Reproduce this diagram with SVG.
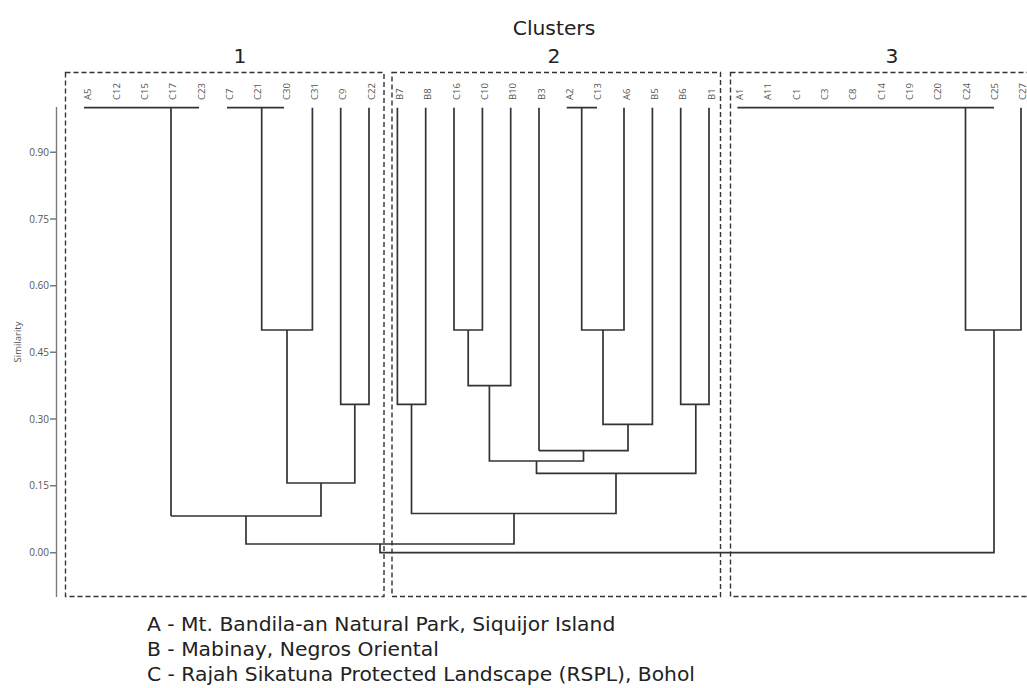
<svg xmlns="http://www.w3.org/2000/svg" width="1027" height="688" viewBox="0 0 1027 688">
<style>
.box{fill:none;stroke:#333;stroke-width:1.4;stroke-dasharray:5,3}
.dl{fill:none;stroke:#333;stroke-width:1.7}
.ax{fill:none;stroke:#7a7a7a;stroke-width:1.4}
.tk{font-family:"Open Sans",sans-serif;font-size:10px;fill:#555;text-anchor:end}
.lf{font-family:"Open Sans",sans-serif;font-size:9.5px;fill:#555;text-anchor:start}
.big{font-family:"DejaVu Sans",Verdana,sans-serif;font-size:20.3px;fill:#222}
</style>
<rect width="1027" height="688" fill="#fff"/>
<g id="title">
<text class="big" x="554" y="35" text-anchor="middle">Clusters</text>
<text class="big" x="240" y="63" text-anchor="middle">1</text>
<text class="big" x="554" y="63" text-anchor="middle">2</text>
<text class="big" x="892" y="63" text-anchor="middle">3</text>
</g>
<g id="cluster-boxes">
<rect class="box" x="65.5" y="72.5" width="318.5" height="524"/>
<rect class="box" x="392" y="72.5" width="328.5" height="524"/>
<rect class="box" x="730.5" y="72.5" width="310" height="524"/>
</g>
<g id="axis">
<path class="ax" d="M56.5,107 V597 M50,152.3 H56.5 M50,219 H56.5 M50,285.7 H56.5 M50,352.3 H56.5 M50,419 H56.5 M50,485.7 H56.5 M50,552.7 H56.5"/>
<text class="tk" x="49" y="156">0.90</text>
<text class="tk" x="49" y="222.7">0.75</text>
<text class="tk" x="49" y="289.4">0.60</text>
<text class="tk" x="49" y="356">0.45</text>
<text class="tk" x="49" y="422.7">0.30</text>
<text class="tk" x="49" y="489.4">0.15</text>
<text class="tk" x="49" y="556.4">0.00</text>
<text font-family="Open Sans, sans-serif" font-size="9.5" fill="#555" text-anchor="middle" transform="translate(21,342) rotate(-90)">Similarity</text>
</g>
<g id="leaf-labels">
<text class="lf" transform="translate(91.2,100) rotate(-90)">A5</text>
<text class="lf" transform="translate(119.5,100) rotate(-90)">C12</text>
<text class="lf" transform="translate(147.9,100) rotate(-90)">C15</text>
<text class="lf" transform="translate(176.2,100) rotate(-90)">C17</text>
<text class="lf" transform="translate(204.5,100) rotate(-90)">C23</text>
<text class="lf" transform="translate(232.9,100) rotate(-90)">C7</text>
<text class="lf" transform="translate(261.2,100) rotate(-90)">C21</text>
<text class="lf" transform="translate(289.5,100) rotate(-90)">C30</text>
<text class="lf" transform="translate(317.9,100) rotate(-90)">C31</text>
<text class="lf" transform="translate(346.2,100) rotate(-90)">C9</text>
<text class="lf" transform="translate(374.5,100) rotate(-90)">C22</text>
<text class="lf" transform="translate(402.9,100) rotate(-90)">B7</text>
<text class="lf" transform="translate(431.2,100) rotate(-90)">B8</text>
<text class="lf" transform="translate(459.5,100) rotate(-90)">C16</text>
<text class="lf" transform="translate(487.9,100) rotate(-90)">C10</text>
<text class="lf" transform="translate(516.2,100) rotate(-90)">B10</text>
<text class="lf" transform="translate(544.5,100) rotate(-90)">B3</text>
<text class="lf" transform="translate(572.9,100) rotate(-90)">A2</text>
<text class="lf" transform="translate(601.2,100) rotate(-90)">C13</text>
<text class="lf" transform="translate(629.5,100) rotate(-90)">A6</text>
<text class="lf" transform="translate(657.9,100) rotate(-90)">B5</text>
<text class="lf" transform="translate(686.2,100) rotate(-90)">B6</text>
<text class="lf" transform="translate(714.5,100) rotate(-90)">B1</text>
<text class="lf" transform="translate(742.9,100) rotate(-90)">A1</text>
<text class="lf" transform="translate(771.2,100) rotate(-90)">A11</text>
<text class="lf" transform="translate(799.5,100) rotate(-90)">C1</text>
<text class="lf" transform="translate(827.9,100) rotate(-90)">C3</text>
<text class="lf" transform="translate(856.2,100) rotate(-90)">C8</text>
<text class="lf" transform="translate(884.5,100) rotate(-90)">C14</text>
<text class="lf" transform="translate(912.9,100) rotate(-90)">C19</text>
<text class="lf" transform="translate(941.2,100) rotate(-90)">C20</text>
<text class="lf" transform="translate(969.5,100) rotate(-90)">C24</text>
<text class="lf" transform="translate(997.9,100) rotate(-90)">C25</text>
<text class="lf" transform="translate(1025.5,100) rotate(-90)">C27</text>
</g>
<g id="connectors">
<path class="dl" d="M84,107.7 H199 M171,107.7 V516"/>
<path class="dl" d="M227,107.7 H284 M261.7,107.7 V330 H312.4 V107.7"/>
<path class="dl" d="M340.7,107.7 V404.3 H369 V107.7"/>
<path class="dl" d="M287,330 V483 H354.8 V404.3"/>
<path class="dl" d="M171,516 H321 V483"/>
<path class="dl" d="M246,516 V544 H514 V513.5"/>
<path class="dl" d="M397.4,107.7 V404.3 H425.7 V107.7"/>
<path class="dl" d="M454,107.7 V330 H482.4 V107.7"/>
<path class="dl" d="M468.2,330 V385.7 H510.7 V107.7"/>
<path class="dl" d="M539,107.7 V450.7"/>
<path class="dl" d="M566.7,107.7 H597 M581.7,107.7 V330 H624 V107.7"/>
<path class="dl" d="M603,330 V424.3 H652.4 V107.7"/>
<path class="dl" d="M628,424.3 V450.7 H539"/>
<path class="dl" d="M583.5,450.7 V461 H489.4 V385.7"/>
<path class="dl" d="M680.7,107.7 V404.3 H709 V107.7"/>
<path class="dl" d="M536.5,461 V473.3 H695.8 V404.3"/>
<path class="dl" d="M616,473.3 V513.5 H411.5 V404.3"/>
<path class="dl" d="M737.4,107.7 H994 M965.5,107.7 V330 H1021 V107.7"/>
<path class="dl" d="M380,544 V552.7 H994 V330"/>
</g>
<g id="legend">
<text class="big" x="147" y="631">A - Mt. Bandila-an Natural Park, Siquijor Island</text>
<text class="big" x="147" y="656">B - Mabinay, Negros Oriental</text>
<text class="big" x="147" y="681">C - Rajah Sikatuna Protected Landscape (RSPL), Bohol</text>
</g>
</svg>
